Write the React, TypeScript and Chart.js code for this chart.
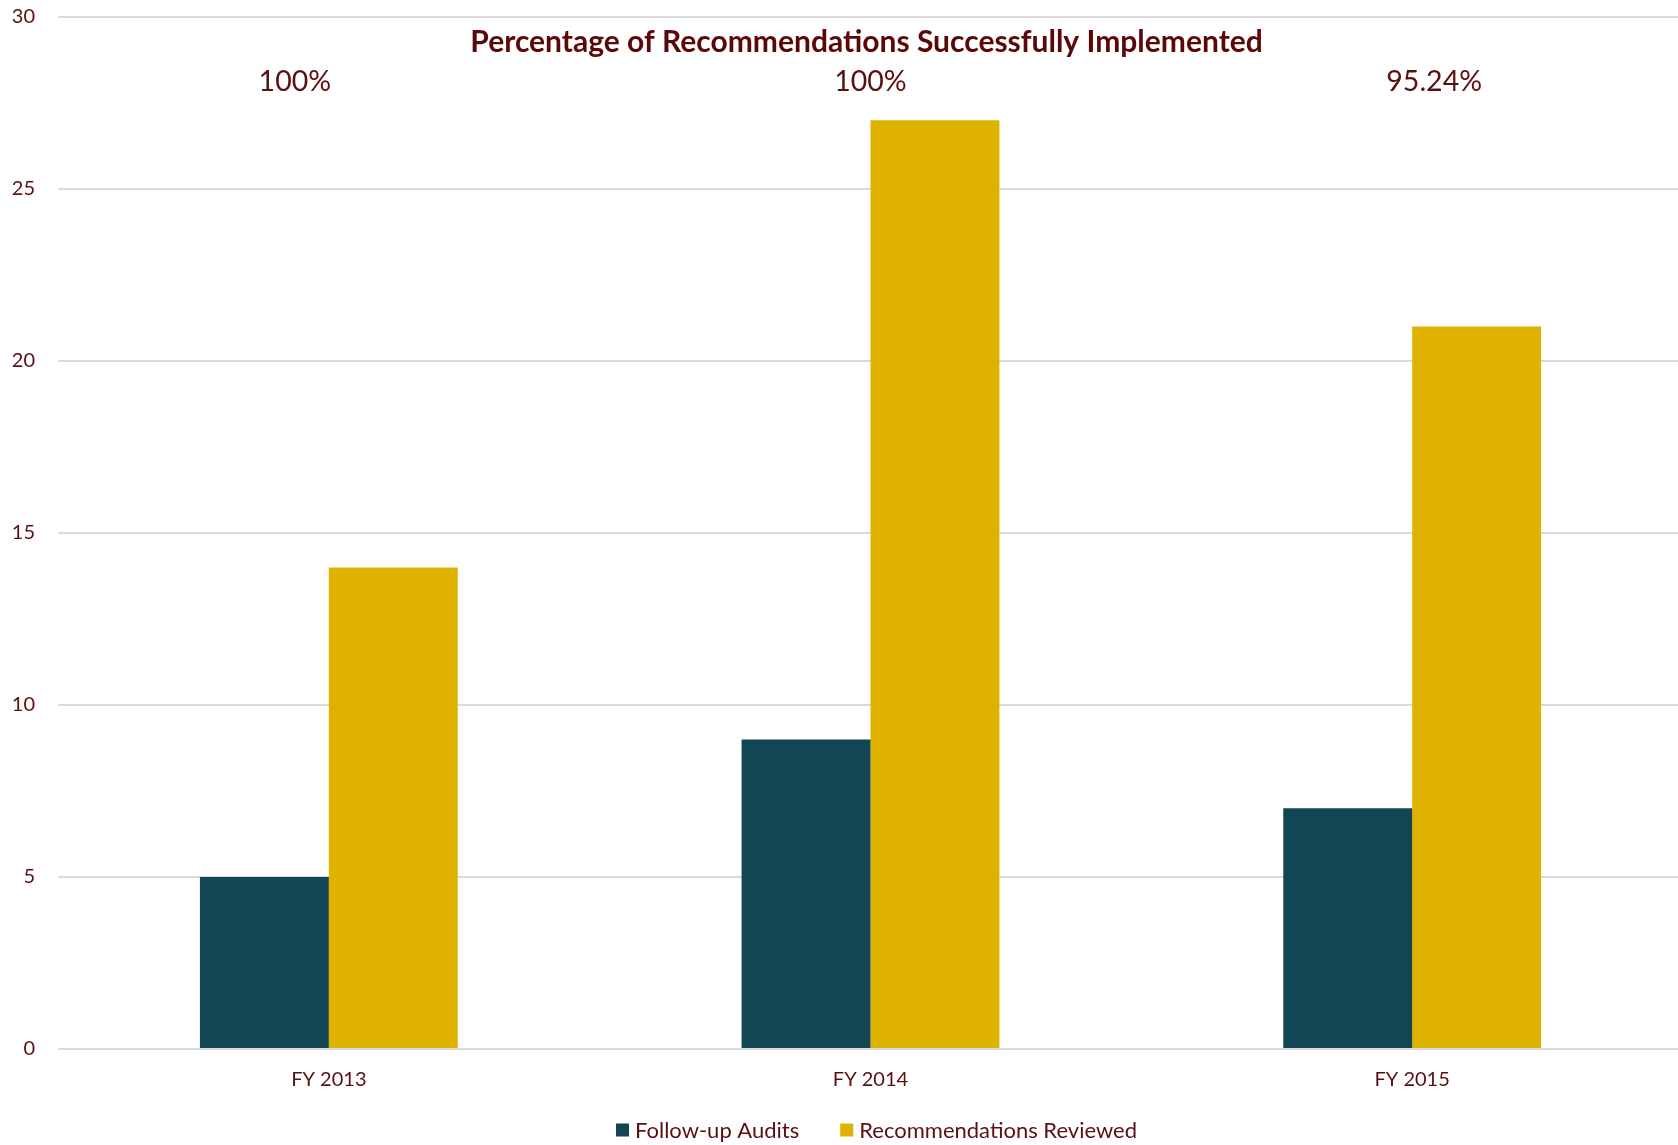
import React, { useEffect, useRef } from "react";
import { Chart, registerables } from "chart.js";

Chart.register(...registerables);

const categories = ["FY 2013", "FY 2014", "FY 2015"];
const followUpAudits = [5, 9, 7];
const recommendationsReviewed = [14, 27, 21];
const successRates = ["100%", "100%", "95.24%"];
const yTickMin = 0;
const yTickMax = 30;
const yTickStep = 5;
const chartTitle = "Percentage of Recommendations Successfully Implemented";
const seriesNames = ["Follow-up Audits", "Recommendations Reviewed"];

const seriesColors = ["#124654", "#E0B200"];
const TEXT = "#5A1010";
const TITLE = "#5C0808";
const FONT = "Lato, 'Open Sans', sans-serif";
const W = 1678;
const H = 1145;
const CANVAS_W = 1683;
const rateOffsets = [-34, 0, 22];

const overlayPlugin = {
  id: "overlay",
  afterDraw(chart: any) {
    const { ctx, chartArea, scales } = chart;
    const xs = scales.x;
    const cx = (chartArea.left + chartArea.right) / 2;
    ctx.save();
    ctx.textAlign = "center";
    ctx.textBaseline = "middle";
    ctx.fillStyle = TITLE;
    ctx.font = `bold 30px ${FONT}`;
    ctx.fillText(chartTitle, cx - 4, 42);
    ctx.fillStyle = TEXT;
    ctx.font = `28.5px ${FONT}`;
    successRates.forEach((s, i) => {
      ctx.fillText(s, xs.getPixelForValue(i) + rateOffsets[i], 82);
    });
    // legend
    ctx.font = `22px ${FONT}`;
    const box = 13;
    const gapText = 6;
    const gapItem = 41;
    const widths = seriesNames.map((n) => ctx.measureText(n).width);
    const total =
      widths.reduce((a, b) => a + b, 0) + seriesNames.length * (box + gapText) + gapItem * (seriesNames.length - 1);
    let x = cx + 6 - total / 2;
    const ly = 1130;
    ctx.textAlign = "left";
    seriesNames.forEach((n, i) => {
      ctx.fillStyle = seriesColors[i];
      ctx.fillRect(x, ly - box / 2, box, box);
      x += box + gapText;
      ctx.fillStyle = TEXT;
      ctx.fillText(n, x, ly + 1);
      x += widths[i] + gapItem;
    });
    ctx.restore();
  },
};

export default function App() {
  const ref = useRef<HTMLCanvasElement>(null);
  useEffect(() => {
    if (!ref.current) return;
    const chart = new Chart(ref.current, {
      type: "bar",
      data: {
        labels: categories,
        datasets: [
          {
            label: seriesNames[0],
            data: followUpAudits,
            backgroundColor: seriesColors[0],
            categoryPercentage: 0.476,
            barPercentage: 1,
          },
          {
            label: seriesNames[1],
            data: recommendationsReviewed,
            backgroundColor: seriesColors[1],
            categoryPercentage: 0.476,
            barPercentage: 1,
          },
        ],
      },
      options: {
        responsive: false,
        animation: false,
        layout: { padding: { top: 17, bottom: 34, left: 0, right: 0 } },
        plugins: {
          legend: { display: false },
          title: { display: false },
          tooltip: { enabled: false },
        },
        scales: {
          x: {
            grid: { display: false, drawTicks: false },
            border: { display: false },
            ticks: { color: TEXT, font: { family: FONT, size: 20 }, padding: 19 },
          },
          y: {
            min: yTickMin,
            max: yTickMax,
            afterFit: (s: any) => {
              s.width = 58;
              s.paddingTop = 0;
              s.paddingBottom = 0;
            },
            grid: { color: "#D9D9D9", lineWidth: 2, drawTicks: false },
            border: { display: false },
            ticks: { stepSize: yTickStep, color: TEXT, font: { family: FONT, size: 20 }, padding: 23 },
          },
        },
      },
      plugins: [overlayPlugin],
    });
    return () => chart.destroy();
  }, []);
  return (
    <div style={{ position: "absolute", left: 0, top: 0, width: W, height: H, overflow: "hidden", background: "#fff" }}>
      <canvas ref={ref} width={CANVAS_W} height={H} style={{ display: "block" }} />
    </div>
  );
}
